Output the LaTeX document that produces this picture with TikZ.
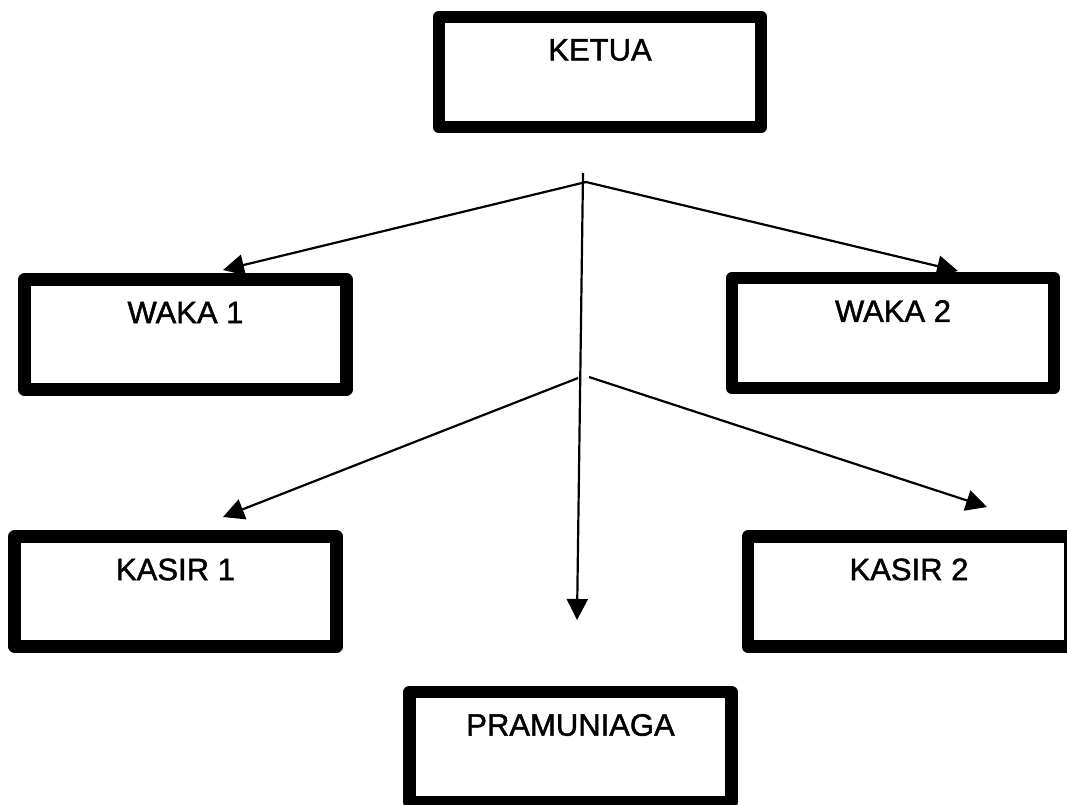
\documentclass[tikz,border=0pt]{standalone}
\usepackage{fontspec}
\setmainfont[FakeBold=1.4]{Liberation Sans}
\usetikzlibrary{arrows.meta,calc}
\begin{document}
\begin{tikzpicture}[x=1pt,y=-1pt,
  orgbox/.style={draw=black, line width=12.5pt, line join=round, fill=white,
    minimum width=322pt, minimum height=110pt, inner sep=0pt, outer sep=0pt},
  boxlabel/.style={anchor=center, yshift=-33pt, font=\fontsize{31}{36}\selectfont, inner sep=0pt},
  conn/.style={line width=2.2pt, draw=black},
  arr/.style={conn, -{Triangle[length=21pt,width=21pt]}}
]
\useasboundingbox (0,0) rectangle (1067,804);

\node[orgbox, label={[boxlabel]north:KETUA}] (ketua) at (600,72) {};
\node[orgbox, label={[boxlabel]north:WAKA 1}] (waka1) at (185.5,334.5) {};
\node[orgbox, label={[boxlabel]north:WAKA 2}] (waka2) at (893,333) {};
\node[orgbox, label={[boxlabel]north:KASIR 1}] (kasir1) at (175.5,591.5) {};
\node[orgbox, label={[boxlabel]north:KASIR 2}] (kasir2) at (909,591.5) {};
\node[orgbox, label={[boxlabel]north:PRAMUNIAGA}] (pram) at (570.5,747) {};

% junctions and arrow tips
\coordinate (vtop) at (583,173);
\coordinate (j1) at (586,182);
\coordinate (j2l) at (578,378);
\coordinate (j2r) at (589,377);
\coordinate (tw1) at (223,270);
\coordinate (tw2) at (958,271);
\coordinate (tk1) at (223,517);
\coordinate (tk2) at (987,507);
\coordinate (tp) at (577,620);

\draw[arr] (vtop) -- (tp);
\draw[arr] (j1) -- (tw1);
\draw[arr] (j1) -- (tw2);
\draw[arr] (j2l) -- (tk1);
\draw[arr] (j2r) -- (tk2);
\end{tikzpicture}
\end{document}
